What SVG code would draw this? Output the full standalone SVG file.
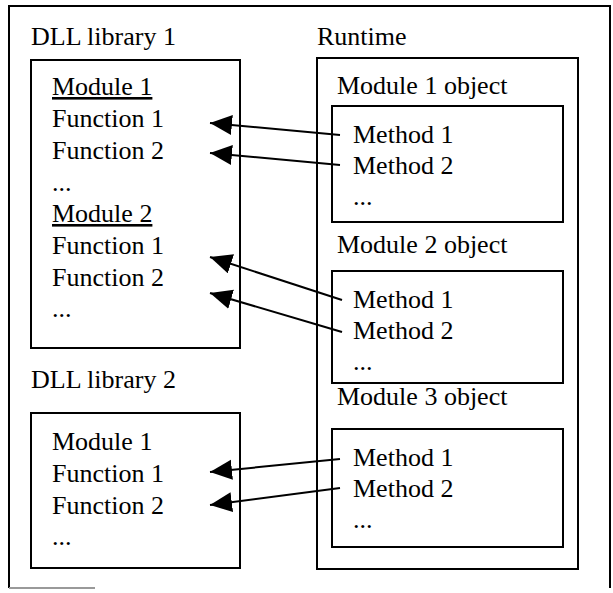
<svg xmlns="http://www.w3.org/2000/svg" width="613" height="593" viewBox="0 0 613 593">
<defs>
<style>
.t{font-family:"Liberation Serif","Times New Roman",serif;font-size:26px;fill:#000}
.u{text-decoration:underline}
.box{fill:none;stroke:#000;stroke-width:2}
.con{fill:none;stroke:#000;stroke-width:2}
</style>
<marker id="ah" markerUnits="userSpaceOnUse" markerWidth="24" markerHeight="22" refX="22" refY="10" orient="auto">
<path d="M0,0 L22,10 L0,20 Z" fill="#000"/>
</marker>
</defs>
<rect width="613" height="593" fill="#fff"/>
<g id="frame">
<path class="box" d="M9,588 V6 H610 V588"/>
<path d="M9,588 H95" stroke="#999" stroke-width="2" fill="none"/>
</g>
<g id="dll1">
<text class="t" x="31" y="45">DLL library 1</text>
<rect class="box" x="31" y="60" width="209" height="288"/>
<text class="t u" x="52" y="95">Module 1</text>
<text class="t" x="52" y="127">Function 1</text>
<text class="t" x="52" y="159">Function 2</text>
<text class="t" x="52" y="191">...</text>
<text class="t u" x="52" y="222">Module 2</text>
<text class="t" x="52" y="254">Function 1</text>
<text class="t" x="52" y="286">Function 2</text>
<text class="t" x="52" y="317">...</text>
</g>
<g id="dll2">
<text class="t" x="31" y="388">DLL library 2</text>
<rect class="box" x="31" y="413" width="209" height="155"/>
<text class="t" x="52" y="450">Module 1</text>
<text class="t" x="52" y="482">Function 1</text>
<text class="t" x="52" y="514">Function 2</text>
<text class="t" x="52" y="545">...</text>
</g>
<g id="runtime">
<text class="t" x="317" y="45">Runtime</text>
<rect class="box" x="317" y="58" width="261" height="511"/>
</g>
<g id="obj1">
<text class="t" x="337" y="94">Module 1 object</text>
<rect class="box" x="332" y="106" width="231" height="116"/>
<text class="t" x="353" y="143">Method 1</text>
<text class="t" x="353" y="174">Method 2</text>
<text class="t" x="353" y="205">...</text>
</g>
<g id="obj2">
<text class="t" x="337" y="253">Module 2 object</text>
<rect class="box" x="332" y="271" width="231" height="112"/>
<text class="t" x="353" y="308">Method 1</text>
<text class="t" x="353" y="339">Method 2</text>
<text class="t" x="353" y="370">...</text>
</g>
<g id="obj3">
<text class="t" x="337" y="405">Module 3 object</text>
<rect class="box" x="332" y="429" width="231" height="118"/>
<text class="t" x="353" y="466">Method 1</text>
<text class="t" x="353" y="497">Method 2</text>
<text class="t" x="353" y="528">...</text>
</g>
<g id="connectors">
<line class="con" x1="340" y1="135" x2="210" y2="123" marker-end="url(#ah)"/>
<line class="con" x1="340" y1="165" x2="210" y2="153" marker-end="url(#ah)"/>
<line class="con" x1="342" y1="300" x2="210" y2="257" marker-end="url(#ah)"/>
<line class="con" x1="342" y1="332" x2="210" y2="293" marker-end="url(#ah)"/>
<line class="con" x1="340" y1="459" x2="210" y2="472" marker-end="url(#ah)"/>
<line class="con" x1="340" y1="488" x2="210" y2="505" marker-end="url(#ah)"/>
</g>
</svg>
